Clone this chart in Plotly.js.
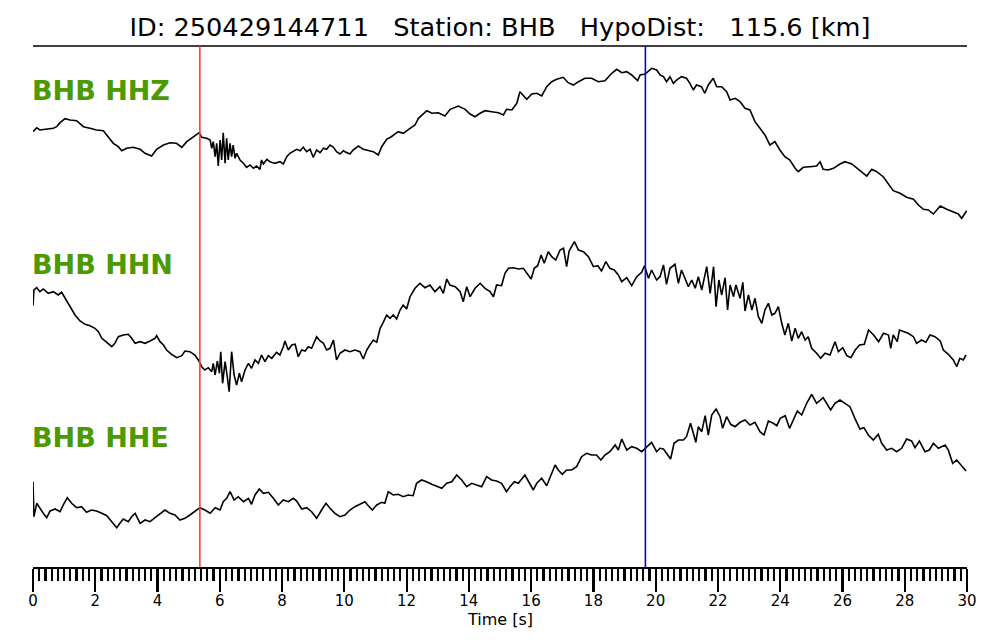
<!DOCTYPE html>
<html>
<head>
<meta charset="utf-8">
<script src="https://cdn.plot.ly/plotly-3.0.1.min.js"></script>
<style>html,body{margin:0;padding:0;background:#fff;}#chart{width:1000px;height:640px;}</style>
</head>
<body>
<div id="chart"></div>
<script>
// ---- data (time in s, amplitude in relative units) ----
const channels = ["BHB HHZ", "BHB HHN", "BHB HHE"];

const hhzTime = [0,0.12,0.22,0.44,0.65,0.76,0.87,1.03,1.19,1.40,1.62,1.83,2.04,2.26,2.42,2.58,2.74,2.85,3.01,3.22,3.44,3.60,3.81,3.97,4.19,4.40,4.61,4.78,4.94,5.15,5.34,5.42,5.58,5.69,5.74,5.79,5.85,5.90,5.95,6.01,6.06,6.11,6.17,6.22,6.27,6.33,6.38,6.43,6.49,6.54,6.65,6.76,6.86,6.97,7.08,7.18,7.29,7.34,7.40,7.51,7.61,7.77,7.93,8.04,8.15,8.25,8.36,8.47,8.58,8.68,8.79,8.90,9.00,9.11,9.22,9.33,9.43,9.54,9.65,9.75,9.86,9.97,
10.02,10.18,10.28,10.45,10.61,10.77,10.93,11.09,11.20,11.36,11.51,11.73,11.89,12.11,12.27,12.38,12.54,12.65,12.81,13.02,13.23,13.40,13.66,13.88,14.04,14.20,14.36,14.52,14.73,14.95,15.11,15.21,15.38,15.54,15.64,15.75,15.86,16.02,16.18,16.34,16.50,16.66,16.82,17.03,17.19,17.36,17.52,17.73,17.94,18.16,18.37,18.59,18.75,18.91,19.07,19.23,19.42,19.50,19.66,19.87,20.03,
20.14,20.25,20.35,20.46,20.57,20.67,20.83,20.99,21.10,21.21,21.31,21.47,21.58,21.69,21.85,21.96,22.12,22.28,22.39,22.55,22.71,22.87,23.03,23.19,23.35,23.51,23.67,23.83,23.99,24.15,24.31,24.48,24.58,24.74,24.96,25.17,25.28,25.38,25.54,25.71,25.92,26.08,26.30,26.46,26.62,26.78,26.94,27.10,27.31,27.47,27.63,27.85,28.06,28.28,28.44,28.60,28.76,28.92,29.14,29.35,29.56,29.72,29.83,29.99];
const hhzAmp = [8.3,12.3,10,11,11.7,13.3,17.3,21.3,20,19.3,13.3,11.7,10,9.3,3.3,-3.3,-6.7,-10.7,-8.3,-7.3,-9.3,-13.3,-16,-9.3,-5,-2.7,-3.3,-7.3,-1.7,2.7,7.3,2.7,1.7,0,-8.3,-1.7,-16.7,-3.3,-26,0,-20,7.3,-23.3,1.7,-20,-3.3,-16.7,-5,-18.3,-13.3,-20,-23.3,-27.3,-25,-28.3,-26,-29.3,-20,-24,-19.3,-21.7,-23.3,-21.7,-24,-16.7,-13.3,-11.7,-9.3,-10.7,-7.3,-11.7,-9.3,-17.3,-10,-12.7,-8.3,-9.3,-5,-7.3,-11.7,-14,-10.7,
-11.7,-14,-10,-6,-9.3,-10.7,-11.7,-15,-6.7,0.7,3.3,8.3,6.7,11.7,15,21.7,26.7,29.3,26.7,27.3,24,30.7,34,30.7,26,23.3,26.7,29.3,28.3,27.3,25,30.7,30,36.7,48.3,44,40.7,46,46.7,44,53.3,58.3,60.7,62.7,57.3,55,58.3,61.7,61.7,58.3,59.3,66.7,70.7,67.3,68.3,65,59.3,65,66,71.7,70,
65,63.3,58.3,63.3,56.7,60,63.3,61.7,56.7,50,55,53.3,46.7,55,61.7,53.3,53.3,48.3,40,41.7,38.3,31.7,30,18.3,11.7,5,-5,-1.7,-10,-16.7,-20,-28.3,-31.7,-27.3,-26.7,-26,-21.7,-29.3,-30,-28.3,-24,-21.7,-24,-28.3,-31.7,-36,-29.3,-31.7,-36.7,-43.3,-50.7,-53.3,-57.3,-59.3,-65,-69.3,-70,-74,-66,-69.3,-71.7,-74,-78.3,-70.7];

const hhnTime = [0,0.03,0.12,0.22,0.33,0.49,0.65,0.81,0.92,1.03,1.13,1.24,1.35,1.51,1.67,1.83,1.99,2.10,2.21,2.37,2.53,2.63,2.74,2.90,3.06,3.17,3.28,3.44,3.60,3.76,3.92,3.97,4.08,4.19,4.29,4.45,4.62,4.78,4.88,5.04,5.20,5.31,5.42,5.52,5.63,5.74,5.79,5.85,5.92,5.99,6.03,6.09,6.17,6.24,6.30,6.38,6.46,6.54,6.63,6.70,6.81,6.92,7.02,7.13,7.24,7.34,7.45,7.56,7.67,7.82,7.93,8.04,8.09,8.20,8.31,8.42,8.52,8.63,8.74,8.84,8.95,9.11,9.22,9.33,9.43,9.54,9.65,9.75,9.86,
10.02,10.18,10.34,10.50,10.61,10.72,10.82,10.93,11.04,11.15,11.25,11.36,11.47,11.57,11.68,11.79,11.89,12.00,12.11,12.27,12.43,12.59,12.75,12.91,13.07,13.18,13.29,13.39,13.56,13.72,13.82,13.93,14.04,14.20,14.36,14.52,14.68,14.79,14.89,15.05,15.16,15.27,15.43,15.59,15.75,15.89,16.00,16.10,16.21,16.32,16.42,16.55,16.66,16.79,16.93,17.04,17.14,17.22,17.39,17.52,17.68,17.84,18.00,18.14,18.26,18.40,18.53,18.67,18.80,18.91,19.07,19.23,19.39,19.55,19.64,19.77,19.87,20.03,
20.14,20.25,20.35,20.46,20.62,20.73,20.83,20.94,21.05,21.16,21.27,21.37,21.48,21.64,21.75,21.86,21.94,22.03,22.12,22.23,22.31,22.39,22.50,22.58,22.71,22.80,22.87,22.98,23.09,23.19,23.30,23.41,23.51,23.62,23.73,23.83,23.94,24.05,24.15,24.26,24.37,24.48,24.58,24.69,24.80,24.90,25.01,25.17,25.30,25.44,25.60,25.76,25.87,26.01,26.14,26.27,26.41,26.55,26.70,26.84,27.00,27.16,27.32,27.48,27.55,27.63,27.76,27.83,27.95,28.11,28.28,28.38,28.54,28.68,28.81,28.97,29.14,29.24,29.40,29.56,29.67,29.77,29.88,29.97];
const hhnAmp = [4.3,20,22.3,18.3,21,16.7,18.3,15,17.7,11.7,6.7,1.7,-5,-11,-14.3,-15.7,-18.3,-21.7,-28.3,-32.3,-36.7,-33.3,-26.7,-25,-24.3,-28.3,-33.3,-31.7,-33.3,-31,-28.3,-25.7,-31.7,-35,-40,-44.3,-47.7,-45.7,-41,-41.7,-45,-50,-56.7,-60,-57.7,-61.7,-53.3,-65,-51,-63.3,-41.7,-73.3,-51.7,-66.7,-81.7,-41.7,-65,-75,-63.3,-71.7,-60,-53.3,-58.3,-50,-53.3,-45,-51.7,-45.7,-48.3,-42.3,-45,-36.7,-31,-40,-35,-34.3,-46.7,-40,-41,-36.7,-38.3,-26.7,-31,-33.3,-40,-38.3,-30,-50,-43.3,
-40,-41.7,-40,-41.7,-49,-40,-35,-30,-32.3,-18.3,-12.3,-5,-8.3,-5,-9,0,5,1,13.3,21.7,26.7,22.3,25,18.3,23.3,16.7,31,25,23.3,18.3,8.3,23.3,13.3,21.7,26.7,21.7,18.3,13.3,25,24.3,36.7,41.7,42.3,41,41.7,35,31,41.7,44.3,55,46.7,58.3,53.3,50,60,61.7,43.3,59,68.3,60,58.3,53.3,43.3,44.3,39,48.3,41.7,40,35,28.3,32.3,24.3,33.3,37.7,44.3,31.7,40,30,
33.3,45,25.7,41.7,45.7,26.7,40,31.7,23.3,30,21.7,33.3,20,43.3,16.7,43.3,3.3,30,15,32.3,0,25,13.3,25,11.7,27.7,-1,15,0,11.7,-6.7,-13.3,0,6.7,-5,-3.3,3.3,-13.3,-25,-13.3,-31,-18.3,-28.3,-21.7,-30,-26.7,-38.3,-43.3,-48.3,-43.3,-45,-31.7,-41.7,-37.7,-45.7,-47.7,-40,-35,-34.3,-20,-25,-31.7,-23.3,-25,-38.3,-25,-31.7,-20,-21.7,-23.3,-26.7,-33.3,-30,-32.3,-25,-26.7,-31,-40,-44.3,-50,-56.7,-48.3,-50,-45];

const hheTime = [0,0.03,0.12,0.22,0.33,0.44,0.55,0.71,0.87,0.97,1.10,1.24,1.40,1.56,1.72,1.88,2.04,2.21,2.37,2.53,2.69,2.79,2.90,3.06,3.17,3.28,3.44,3.60,3.76,3.92,4.08,4.24,4.40,4.56,4.72,4.88,5.04,5.20,5.36,5.52,5.69,5.85,6.01,6.11,6.22,6.33,6.46,6.59,6.76,6.92,7.02,7.13,7.27,7.40,7.56,7.72,7.88,8.04,8.20,8.36,8.47,8.63,8.79,8.95,9.11,9.27,9.41,9.54,9.70,9.86,
10.02,10.18,10.34,10.50,10.66,10.77,10.90,11.04,11.20,11.30,11.41,11.57,11.73,11.89,12.05,12.21,12.32,12.48,12.64,12.81,12.97,13.13,13.29,13.45,13.61,13.77,13.93,14.09,14.25,14.41,14.57,14.73,14.89,15.05,15.21,15.32,15.46,15.59,15.80,15.93,16.07,16.18,16.34,16.50,16.61,16.77,16.87,17.00,17.14,17.30,17.46,17.62,17.78,17.94,18.10,18.24,18.37,18.53,18.70,18.80,18.91,19.07,19.23,19.39,19.55,19.71,19.87,20.03,
20.14,20.25,20.35,20.48,20.59,20.73,20.89,20.99,21.12,21.21,21.29,21.37,21.48,21.59,21.69,21.80,21.94,22.07,22.15,22.28,22.41,22.55,22.71,22.87,23.03,23.19,23.35,23.48,23.62,23.78,23.89,24.00,24.16,24.30,24.42,24.55,24.69,24.85,25.01,25.17,25.38,25.49,25.62,25.76,25.92,26.08,26.24,26.40,26.56,26.69,26.83,26.99,27.15,27.26,27.42,27.58,27.74,27.90,28.06,28.22,28.33,28.47,28.65,28.79,28.92,29.08,29.30,29.40,29.54,29.67,29.83,29.97];
const hheAmp = [-1.7,-36.7,-23.3,-28.3,-33.3,-37.7,-31,-29,-31.7,-25,-17.7,-23.3,-27.7,-26.7,-32.3,-30,-31,-33.3,-35.7,-41.7,-47.7,-43.3,-39,-41.7,-36.7,-33.3,-43.3,-40,-41.7,-37.7,-34.3,-30,-33.3,-35,-40,-38.3,-35,-31,-27.7,-30,-33.3,-27.7,-30,-21.7,-18.3,-11.7,-20,-16.7,-21.7,-18.3,-24.3,-15,-9,-13.3,-12.3,-18.3,-25,-20,-21.7,-18.3,-21,-29,-27.7,-31.7,-38.3,-30,-23.3,-28.3,-33.3,-36.7,
-35,-30,-26.7,-24.3,-21.7,-25.7,-30,-25,-22.3,-23.3,-11.7,-15,-14.3,-16.7,-15,-15.7,-3.3,0,-1.7,-4.3,-6.7,-8.3,-3.3,-1.7,5,0,-6.7,-3.3,-5,-6.7,3.3,0,-1,-3.3,-11.7,-6.7,-1.7,-3.3,5,-1.7,-10,-3.3,1.7,-5.7,3.3,15,10,5.7,10,10,13.3,23.3,26.7,25,25,20,25,28.3,35,30,41,30,33.3,31.7,28.3,33.3,37.7,28.3,
31.7,31,26.7,21,36.7,40,40,43.3,56.7,45,37.7,53.3,48.3,64.3,45,65,71,63.3,51.7,63.3,55.7,53.3,57.7,60,55,57.7,48.3,45,59,56.7,54.3,61.7,64.3,51.7,60,69,65,76.7,85.7,76.7,82.3,76.7,70,76.7,80,76.7,73.3,61.7,51,52.3,45,40,45.7,36.7,30,31.7,28.3,31.7,41,39,32.3,39,28.3,30,36.7,31.7,35,30,16.7,20,14.3,9];

const pickTimes = [5.36, 19.67];
const pickColors = ["#ff3b3b", "#0000ff"];
const titleText = "ID: 250429144711\u00a0\u00a0\u00a0Station: BHB\u00a0\u00a0\u00a0HypoDist:\u00a0\u00a0\u00a0115.6 [km]";
const xTitle = "Time [s]";

// ---- layout helpers (positions, not data) ----
const offsets = [427, 257, 87];       // vertical baseline of each channel
const labelShift = [50, 46, 43];      // label height above baseline
const times = [hhzTime, hhnTime, hheTime];
const amps = [hhzAmp, hhnAmp, hheAmp];

const traces = channels.map((name, i) => ({
  type: 'scatter', mode: 'lines', name: name,
  x: times[i],
  y: amps[i].map(v => v + offsets[i]),
  line: {color: '#000', width: 1.6},
  hoverinfo: 'skip', showlegend: false
}));

const shapes = [{
  type: 'line', xref: 'paper', yref: 'paper', x0: 0, x1: 1, y0: 1, y1: 1,
  line: {color: '#000', width: 1.5}
}].concat(pickTimes.map((t, i) => ({
  type: 'line', xref: 'x', yref: 'paper', x0: t, x1: t, y0: 0, y1: 1,
  line: {color: pickColors[i], width: 1.6}, layer: 'above'
})));

const annotations = channels.map((name, i) => ({
  xref: 'paper', yref: 'y', x: 0, y: offsets[i] + labelShift[i],
  xanchor: 'left', yanchor: 'middle', showarrow: false, xshift: -3,
  text: '<b>' + name + '</b>',
  font: {family: 'DejaVu Sans', size: 27, color: '#4c9900'}
})).concat([{
  xref: 'paper', yref: 'paper', x: 0.5, y: 0, yshift: -52,
  xanchor: 'center', yanchor: 'middle', showarrow: false, borderpad: 0,
  text: xTitle, font: {family: 'DejaVu Sans', size: 16, color: '#000'}
}]);

const layout = {
  width: 1000, height: 640,
  margin: {l: 33, r: 33, t: 46, b: 73, pad: 0},
  paper_bgcolor: '#fff', plot_bgcolor: '#fff',
  title: {text: titleText, x: 0.5, xanchor: 'center', xref: 'paper',
          y: 1 - 27/640, yanchor: 'middle', yref: 'container',
          font: {family: 'DejaVu Sans', size: 25.6, color: '#000'}},
  xaxis: {
    range: [0, 30], tick0: 0, dtick: 2,
    ticks: 'outside', ticklen: 23, tickwidth: 2.2, tickcolor: '#000',
    showline: true, linewidth: 2.2, linecolor: '#000',
    showgrid: false, zeroline: false, ticklabelstandoff: -4,
    tickfont: {family: 'DejaVu Sans', size: 15, color: '#000'},
    minor: {dtick: 0.2, tick0: 0, ticks: 'outside', ticklen: 12, tickwidth: 2.2, tickcolor: '#000', showgrid: false}
  },
  yaxis: {range: [0, 521], visible: false, showgrid: false, zeroline: false},
  shapes: shapes,
  annotations: annotations
};

Plotly.newPlot('chart', traces, layout, {displayModeBar: false, staticPlot: true});
</script>
</body>
</html>
